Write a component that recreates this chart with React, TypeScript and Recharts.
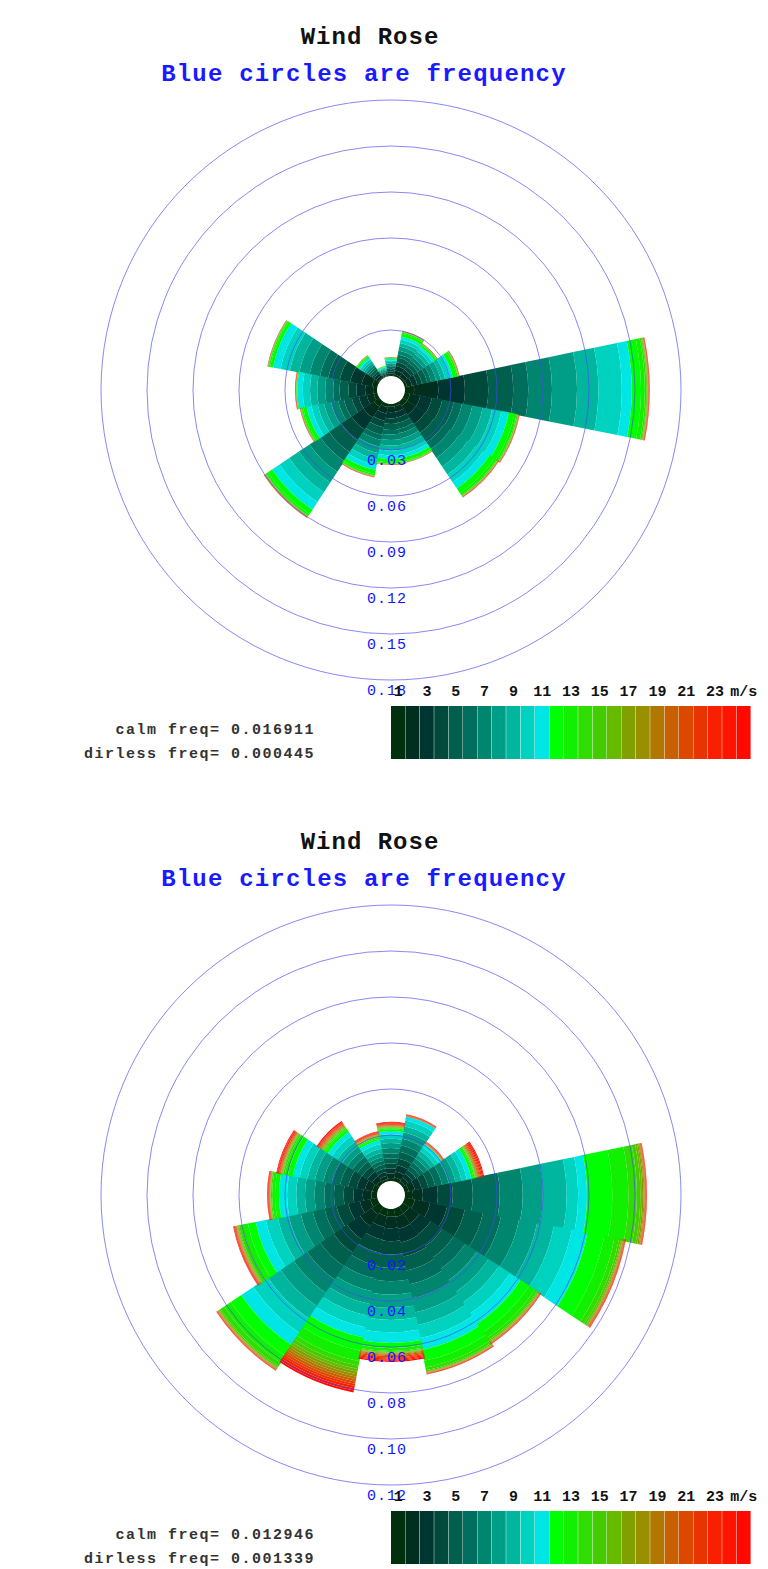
import React from "react";
import {
  RadialBarChart,
  RadialBar,
  PolarAngleAxis,
  PolarRadiusAxis,
  PolarGrid,
  BarChart,
  Bar,
  XAxis,
  YAxis,
  Cell,
} from "recharts";

// ---------- categories ----------
const directions = ["N", "NNE", "NE", "ENE", "E", "ESE", "SE", "SSE", "S", "SSW", "SW", "WSW", "W", "WNW", "NW", "NNW"];
const speedBins = [1, 2, 3, 4, 5, 6, 7, 8, 9, 10, 11, 12, 13, 14, 15, 16, 17, 18, 19, 20, 21, 22, 23, 24, 25];
const speedLabels = ["1", "", "3", "", "5", "", "7", "", "9", "", "11", "", "13", "", "15", "", "17", "", "19", "", "21", "", "23", "", "m/s"];
const speedColors = [
  "#00300e", "#002f1f", "#003632", "#004a3c", "#005f4d", "#006e5c", "#00856f", "#009e87", "#00b69f", "#00d2c0", "#00e6e4",
  "#00ff00", "#10f000", "#30dd00", "#44cc00", "#66bb00", "#80a000", "#999000", "#b07800", "#c86000", "#dd4800", "#e83400", "#f82000", "#ff1400", "#ff0800",
];

// ---------- top rose: frequency per speed bin (25 bins) for each direction ----------
const topN = [0.0006, 0.0011, 0.0012, 0.0011, 0.0012, 0.0009, 0.0011, 0.0011, 0.001, 0.001, 0.0009, 0.0006, 0.0002, 0.0001, 0.0001, 0, 0, 0, 0, 0, 0, 0.0001, 0.0001, 0, 0];
const topNNE = [0.0013, 0.0027, 0.0029, 0.0026, 0.0029, 0.0021, 0.0026, 0.0026, 0.0024, 0.0023, 0.0018, 0.002, 0.0008, 0.0003, 0.0002, 0.0001, 0.0001, 0, 0, 0, 0, 0.0001, 0.0001, 0.0001, 0];
const topNE = [0.0013, 0.0026, 0.0028, 0.0025, 0.0028, 0.002, 0.0025, 0.0025, 0.0022, 0.0022, 0.0016, 0.0012, 0.0005, 0.0002, 0.0001, 0.0001, 0, 0, 0, 0, 0, 0.0001, 0.0001, 0.0001, 0.0001];
const topENE = [0.0016, 0.0032, 0.0035, 0.0032, 0.0035, 0.0026, 0.0032, 0.0032, 0.0029, 0.0029, 0.0022, 0.0024, 0.0009, 0.0004, 0.0002, 0.0001, 0.0001, 0, 0, 0, 0, 0.0001, 0.0001, 0.0001, 0.0001];
const topE = [0.006, 0.0157, 0.0174, 0.0152, 0.0163, 0.0098, 0.0155, 0.0163, 0.0139, 0.0153, 0.0065, 0.006, 0.0025, 0.001, 0.0005, 0.0003, 0.0002, 0.0002, 0.0001, 0.0001, 0.0001, 0.0002, 0.0002, 0.0002, 0.0001];
const topESE = [0.0035, 0.0069, 0.0076, 0.0069, 0.0076, 0.0055, 0.0069, 0.0069, 0.0062, 0.0062, 0.0049, 0.0038, 0.0015, 0.0006, 0.0003, 0.0002, 0.0001, 0.0001, 0.0001, 0, 0, 0.0002, 0.0001, 0.0001, 0.0001];
const topSE = [0.0034, 0.0068, 0.0075, 0.0068, 0.0075, 0.0054, 0.0068, 0.0068, 0.0061, 0.0061, 0.0048, 0.0038, 0.0015, 0.0006, 0.0003, 0.0002, 0.0001, 0.0001, 0.0001, 0, 0, 0.0002, 0.0001, 0.0001, 0.0001];
const topSSE = [0.0018, 0.0036, 0.0039, 0.0035, 0.0039, 0.0028, 0.0036, 0.0036, 0.0032, 0.0032, 0.0024, 0.002, 0.0007, 0.0003, 0.0002, 0.0001, 0.0001, 0, 0, 0, 0, 0.0001, 0.0001, 0.0001, 0];
const topS = [0.0018, 0.0036, 0.004, 0.0036, 0.004, 0.0029, 0.0036, 0.0036, 0.0032, 0.0032, 0.0025, 0.002, 0.0008, 0.0003, 0.0002, 0.0001, 0.0001, 0, 0, 0, 0, 0.0001, 0.0001, 0.0001, 0];
const topSSW = [0.0022, 0.0044, 0.0048, 0.0044, 0.0048, 0.0035, 0.0044, 0.0044, 0.004, 0.004, 0.0031, 0.0026, 0.001, 0.0004, 0.0002, 0.0001, 0.0001, 0.0001, 0, 0, 0, 0.0001, 0.0001, 0.0001, 0.0001];
const topSW = [0.0042, 0.0084, 0.0093, 0.0084, 0.0093, 0.0067, 0.0084, 0.0084, 0.0076, 0.0076, 0.0059, 0.0034, 0.0013, 0.0005, 0.0003, 0.0002, 0.0001, 0.0001, 0.0001, 0, 0, 0.0002, 0.0001, 0.0001, 0.0001];
const topWSW = [0.0024, 0.0047, 0.0052, 0.0047, 0.0052, 0.0038, 0.0047, 0.0047, 0.0042, 0.0042, 0.0032, 0.0024, 0.0009, 0.0004, 0.0002, 0.0001, 0.0001, 0, 0, 0, 0, 0.0001, 0.0001, 0.0001, 0.0001];
const topW = [0.0026, 0.0052, 0.0057, 0.0052, 0.0057, 0.0042, 0.0052, 0.0052, 0.0047, 0.0047, 0.0036, 0.0005, 0.0002, 0.0001, 0.0001, 0, 0, 0, 0, 0, 0, 0.0001, 0.0002, 0.0002, 0.0001];
const topWNW = [0.0035, 0.0069, 0.0076, 0.0069, 0.0076, 0.0055, 0.0069, 0.0069, 0.0062, 0.0062, 0.005, 0.002, 0.0008, 0.0003, 0.0002, 0.0001, 0.0001, 0, 0, 0, 0, 0.0001, 0.0001, 0.0001, 0];
const topNW = [0.0008, 0.0016, 0.0018, 0.0016, 0.0018, 0.0013, 0.0016, 0.0016, 0.0015, 0.0015, 0.0012, 0.0011, 0.0004, 0.0002, 0.0001, 0, 0, 0, 0, 0, 0, 0, 0.0001, 0.0001, 0];
const topNNW = [0.0004, 0.0006, 0.0007, 0.0006, 0.0007, 0.0005, 0.0006, 0.0007, 0.0006, 0.0006, 0.0005, 0.0004, 0.0002, 0.0001, 0, 0, 0, 0, 0, 0, 0, 0, 0, 0, 0];

// ---------- bottom rose ----------
const botN = [0.0013, 0.002, 0.0022, 0.0022, 0.0022, 0.0022, 0.0022, 0.0022, 0.0019, 0.0019, 0.0014, 0.0008, 0.0004, 0.0002, 0.0002, 0.0002, 0.0002, 0.0002, 0.0002, 0.0002, 0.0002, 0.0003, 0.0003, 0.0003, 0.0003];
const botNNE = [0.0017, 0.0026, 0.0029, 0.0029, 0.0029, 0.0029, 0.0029, 0.0029, 0.0026, 0.0026, 0.0018, 0, 0, 0, 0, 0, 0, 0, 0.0001, 0.0001, 0.0001, 0.0001, 0.0002, 0.0002, 0.0001];
const botNE = [0.0012, 0.0018, 0.002, 0.002, 0.002, 0.002, 0.002, 0.002, 0.0019, 0.0019, 0.0016, 0.0001, 0, 0, 0, 0, 0.0001, 0.0001, 0.0001, 0.0001, 0.0002, 0.0002, 0.0002, 0.0001, 0.0001];
const botENE = [0.0018, 0.0027, 0.003, 0.003, 0.003, 0.003, 0.003, 0.003, 0.0027, 0.0024, 0.002, 0.001, 0.0005, 0.0002, 0.0002, 0.0002, 0.0003, 0.0003, 0.0003, 0.0004, 0.0004, 0.0004, 0.0005, 0.0005, 0.0004];
const botE = [0.0035, 0.0043, 0.0065, 0.0065, 0.0087, 0.0117, 0.01, 0.0087, 0.0104, 0.005, 0.0038, 0.011, 0.007, 0.0037, 0.0015, 0.0008, 0.0006, 0.0004, 0.0002, 0.0002, 0.0002, 0.0002, 0.0001, 0.0001, 0.0001];
const botESE = [0.0045, 0.0068, 0.0075, 0.0078, 0.008, 0.008, 0.008, 0.008, 0.0074, 0.008, 0.0069, 0.0075, 0.0045, 0.002, 0.0008, 0.0005, 0.0003, 0.0002, 0.0002, 0.0002, 0.0002, 0.0002, 0.0002, 0.0001, 0.0001];
const botSE = [0.0035, 0.0053, 0.0058, 0.006, 0.006, 0.006, 0.006, 0.006, 0.0055, 0.0058, 0.0054, 0.0045, 0.003, 0.0012, 0.0005, 0.0003, 0.0002, 0.0002, 0.0002, 0.0001, 0.0001, 0.0001, 0.0002, 0.0001, 0.0001];
const botSSE = [0.0036, 0.0054, 0.006, 0.0062, 0.0062, 0.0062, 0.0062, 0.0062, 0.0056, 0.0058, 0.0052, 0.0048, 0.003, 0.0012, 0.0005, 0.0003, 0.0002, 0.0001, 0.0001, 0.0001, 0.0001, 0.0001, 0.0002, 0.0001, 0.0001];
const botS = [0.0034, 0.005, 0.0056, 0.0058, 0.0058, 0.0058, 0.0058, 0.0058, 0.0052, 0.0054, 0.0047, 0.0022, 0.0012, 0.0005, 0.0002, 0.0002, 0.0002, 0.0003, 0.0004, 0.0005, 0.0005, 0.0005, 0.0005, 0.0005, 0.0005];
const botSSW = [0.0033, 0.0049, 0.0055, 0.0057, 0.0057, 0.0057, 0.0057, 0.0057, 0.0051, 0.0052, 0.0045, 0.006, 0.0045, 0.002, 0.0014, 0.0012, 0.0011, 0.0011, 0.0011, 0.001, 0.001, 0.001, 0.001, 0.001, 0.0009];
const botSW = [0.004, 0.0062, 0.0068, 0.007, 0.007, 0.007, 0.007, 0.007, 0.0064, 0.0075, 0.0063, 0.0055, 0.0035, 0.0019, 0.0006, 0.0003, 0.0002, 0.0002, 0.0002, 0.0001, 0.0001, 0.0001, 0.0002, 0.0001, 0.0001];
const botWSW = [0.0031, 0.0046, 0.0051, 0.0053, 0.0053, 0.0053, 0.0053, 0.0053, 0.0048, 0.0053, 0.0045, 0.0035, 0.0025, 0.0014, 0.0004, 0.0003, 0.0002, 0.0002, 0.0002, 0.0002, 0.0002, 0.0002, 0.0003, 0.0002, 0.0002];
const botW = [0.0025, 0.0037, 0.0041, 0.0042, 0.0042, 0.0042, 0.0042, 0.0042, 0.0038, 0.004, 0.0035, 0.0018, 0.0012, 0.0005, 0.0002, 0.0001, 0.0001, 0.0001, 0.0001, 0.0001, 0.0002, 0.0002, 0.0002, 0.0002, 0.0002];
const botWNW = [0.0022, 0.0033, 0.0036, 0.0037, 0.0037, 0.0037, 0.0037, 0.0037, 0.0033, 0.0035, 0.003, 0.0022, 0.0014, 0.0007, 0.0003, 0.0002, 0.0002, 0.0002, 0.0002, 0.0003, 0.0003, 0.0003, 0.0004, 0.0003, 0.0003];
const botNW = [0.0015, 0.0023, 0.0025, 0.0026, 0.0026, 0.0026, 0.0026, 0.0026, 0.0026, 0.0028, 0.0022, 0.0012, 0.0006, 0.0004, 0.0003, 0.0003, 0.0003, 0.0003, 0.0003, 0.0003, 0.0003, 0.0003, 0.0003, 0.0003, 0.0005];
const botNNW = [0.001, 0.0015, 0.0016, 0.0017, 0.0017, 0.0017, 0.0017, 0.0017, 0.0019, 0.002, 0.0017, 0.0008, 0.0005, 0.0003, 0.0002, 0.0002, 0.0002, 0.0002, 0.0002, 0.0002, 0.0002, 0.0003, 0.0003, 0.0002, 0.0002];

// ---------- axis ticks and texts ----------
const topRadiusTicks = [0.03, 0.06, 0.09, 0.12, 0.15, 0.18];
const botRadiusTicks = [0.02, 0.04, 0.06, 0.08, 0.1, 0.12];
const topCalm = "0.016911";
const topDirless = "0.000445";
const botCalm = "0.012946";
const botDirless = "0.001339";

const topRows = [topN, topNNE, topNE, topENE, topE, topESE, topSE, topSSE, topS, topSSW, topSW, topWSW, topW, topWNW, topNW, topNNW];
const botRows = [botN, botNNE, botNE, botENE, botE, botESE, botSE, botSSE, botS, botSSW, botSW, botWSW, botW, botWNW, botNW, botNNW];

function buildData(rows: number[][]) {
  return directions.map((dir, i) => {
    const row: Record<string, any> = { dir };
    speedBins.forEach((b, j) => {
      row[`b${b}`] = rows[i][j];
    });
    return row;
  });
}

const topData = buildData(topRows);
const botData = buildData(botRows);
const barData = speedBins.map((b) => ({ bin: b, v: 1 }));

const MONO = '"Liberation Mono", "DejaVu Sans Mono", monospace';

const RadiusTick = (props: any) => {
  const { x, y, payload } = props;
  return (
    <text
      x={x - 4}
      y={y + 11}
      textAnchor="middle"
      dominantBaseline="central"
      fill="#1414ff"
      fontFamily={MONO}
      fontSize={15}
      letterSpacing={1}
    >
      {Number(payload.value).toFixed(2)}
    </text>
  );
};

const BinTick = (props: any) => {
  const { x, y, payload } = props;
  const label = speedLabels[Number(payload.value) - 1] || "";
  return (
    <text x={x} y={y - 2} textAnchor="middle" fill="#111" fontFamily={MONO} fontWeight="bold" fontSize={15}>
      {label}
    </text>
  );
};

function Rose({ data, ticks, maxFreq, top }: { data: any[]; ticks: number[]; maxFreq: number; top: number }) {
  return (
    <div style={{ position: "absolute", left: 0, top, width: 768, height: 720 }}>
      <RadialBarChart
        width={768}
        height={720}
        data={data}
        cx={391}
        cy={390}
        innerRadius={14}
        outerRadius={290}
        startAngle={78.75}
        endAngle={-281.25}
        layout="centric"
        barCategoryGap={0}
        barGap={0}
        margin={{ top: 0, right: 0, bottom: 0, left: 0 }}
      >
        <PolarAngleAxis type="category" dataKey="dir" tick={false} axisLine={false} tickLine={false} />
        <PolarRadiusAxis
          type="number"
          domain={[0, maxFreq]}
          ticks={ticks}
          angle={-90}
          axisLine={false}
          tickLine={false}
          tick={RadiusTick}
        />
        {speedBins.map((b, i) => (
          <RadialBar
            key={b}
            dataKey={`b${b}`}
            stackId="speed"
            fill={speedColors[i]}
            stroke="none"
            isAnimationActive={false}
          />
        ))}
        <PolarGrid gridType="circle" radialLines={false} stroke="#4848f0" strokeOpacity={0.65} strokeWidth={1} zIndex={1000} />
      </RadialBarChart>
    </div>
  );
}

function ColorBar({ top }: { top: number }) {
  return (
    <div style={{ position: "absolute", left: 391, top, width: 378, height: 80 }}>
      <BarChart
        width={378}
        height={80}
        data={barData}
        margin={{ top: 6, right: 18, bottom: 1, left: 0 }}
        barCategoryGap={0}
        barGap={0}
      >
        <XAxis dataKey="bin" orientation="top" interval={0} axisLine={false} tickLine={false} height={20} tick={BinTick} />
        <YAxis hide domain={[0, 1]} />
        <Bar dataKey="v" isAnimationActive={false}>
          {speedColors.map((c, i) => (
            <Cell key={i} fill={c} />
          ))}
        </Bar>
      </BarChart>
    </div>
  );
}

function Panel({ offset, data, ticks, maxFreq, calm, dirless }: any) {
  return (
    <>
      <div
        style={{
          position: "absolute",
          left: 0,
          top: offset + 25,
          width: 740,
          textAlign: "center",
          fontFamily: MONO,
          fontWeight: "bold",
          fontSize: 24,
          lineHeight: "26px",
          letterSpacing: 1,
          color: "#111",
        }}
      >
        Wind Rose
      </div>
      <div
        style={{
          position: "absolute",
          left: 0,
          top: offset + 62,
          width: 728,
          textAlign: "center",
          fontFamily: MONO,
          fontWeight: "bold",
          fontSize: 24,
          lineHeight: "26px",
          letterSpacing: 1.2,
          color: "#1a1aff",
        }}
      >
        Blue circles are frequency
      </div>
      <Rose data={data} ticks={ticks} maxFreq={maxFreq} top={offset} />
      <ColorBar top={offset + 680} />
      <div
        style={{
          position: "absolute",
          left: 0,
          top: offset + 719,
          width: 315,
          textAlign: "right",
          fontFamily: MONO,
          fontWeight: "bold",
          fontSize: 15,
          lineHeight: "24px",
          letterSpacing: 1.5,
          color: "#333",
          whiteSpace: "pre",
        }}
      >
        {`calm freq= ${calm}\ndirless freq= ${dirless}`}
      </div>
    </>
  );
}

export default function App() {
  return (
    <div style={{ position: "absolute", left: 0, top: 0, width: 768, height: 1569, background: "#fff", overflow: "hidden" }}>
      <Panel offset={0} data={topData} ticks={topRadiusTicks} maxFreq={0.18} calm={topCalm} dirless={topDirless} />
      <Panel offset={805} data={botData} ticks={botRadiusTicks} maxFreq={0.12} calm={botCalm} dirless={botDirless} />
    </div>
  );
}
